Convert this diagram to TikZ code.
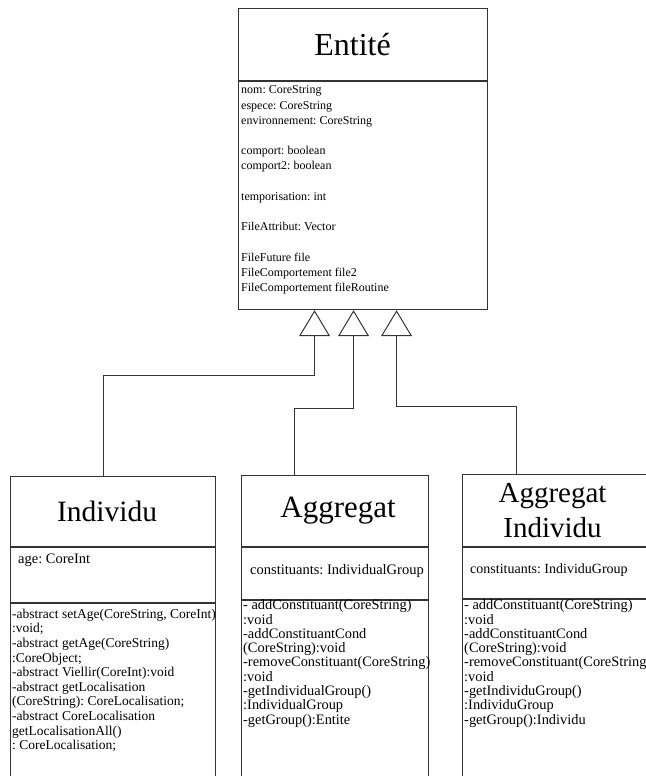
\documentclass[tikz,border=0pt]{standalone}
\usepackage{fontspec}
\setmainfont{Liberation Serif}
\usetikzlibrary{arrows.meta}
\frenchspacing

\tikzset{
  classbox/.style={draw=black!80, line width=1.1pt, inner sep=0pt, anchor=north west},
  classname/.style={font=\fontsize{31}{35}\selectfont, align=center},
  members/.style={anchor=north west, inner sep=0pt, align=left, font=\fontsize{14.4}{14.3}\selectfont},
  fields/.style={anchor=north west, inner sep=0pt, align=left, font=\fontsize{14.5}{15}\selectfont},
  attrs/.style={anchor=north west, inner sep=0pt, align=left, font=\fontsize{12}{15.2}\selectfont},
  inherit/.style={draw=black!80, line width=1pt, -{Triangle[open, width=31pt, length=26pt, line width=1pt]}}
}

\begin{document}
\begin{tikzpicture}[x=1pt, y=-1pt]
        \useasboundingbox (0,0) rectangle (645,776);

        % Entite box
        \node[classbox, minimum width=249pt, minimum height=72pt] (enttitle) at (238,8) {};
        \node[classname, font=\fontsize{32}{36}\selectfont] at ([xshift=-10.5pt]enttitle.center) {Entité};
        \node[classbox, minimum width=249pt, minimum height=228pt] (entattr) at (enttitle.south west) {};
        \node[attrs] (entlist) at (241,85.8) {
            nom: CoreString\\
            espece: CoreString\\
            environnement: CoreString\\[15.2pt]
            comport: boolean\\
            comport2: boolean\\[15.2pt]
            temporisation: int\\[15.2pt]
            FileAttribut: Vector\\[15.2pt]
            FileFuture file\\
            FileComportement file2\\
            FileComportement fileRoutine
        };

        % Individu box
        \node[classbox, minimum width=205pt, minimum height=70pt] (indtitle) at (10,476) {};
        \node[classname, font=\fontsize{29.5}{35}\selectfont] at ([xshift=-6pt]indtitle.center) {Individu};
        \node[classbox, minimum width=205pt, minimum height=55pt] (indattr) at (indtitle.south west) {};
        \node[classbox, minimum width=205pt, minimum height=190pt] (indops) at (indattr.south west) {};
        \node[fields] (indage) at (18,554) {age: CoreInt};
        \node[members, font=\fontsize{13.5}{14.6}\selectfont] (indlist) at (12,608.7) {
            -abstract setAge(CoreString, CoreInt)\\
            :void;\\
            -abstract getAge(CoreString)\\
            :CoreObject;\\
            -abstract Viellir(CoreInt):void\\
            -abstract getLocalisation\\
            (CoreString): CoreLocalisation;\\
            -abstract CoreLocalisation\\
            getLocalisationAll()\\
            : CoreLocalisation;
        };

        % Aggregat box
        \node[classbox, minimum width=187pt, minimum height=71pt] (aggtitle) at (241,475) {};
        \node[classname] at ([xshift=3pt]aggtitle.center) {Aggregat};
        \node[classbox, minimum width=187pt, minimum height=52pt] (aggattr) at (aggtitle.south west) {};
        \node[classbox, minimum width=187pt, minimum height=177pt] (aggops) at (aggattr.south west) {};
        \node[fields] (aggconst) at (250,564) {constituants: IndividualGroup};
        \node[members] (agglist) at (243,599.5) {
            - addConstituant(CoreString)\\
            :void\\
            -addConstituantCond\\
            (CoreString):void\\
            -removeConstituant(CoreString)\\
            :void\\
            -getIndividualGroup()\\
            :IndividualGroup\\
            -getGroup():Entite
        };

        % Aggregat Individu box
        \node[classbox, minimum width=200pt, minimum height=72pt] (aititle) at (462,474) {};
        \node[classname, font=\fontsize{29}{35}\selectfont] at ([xshift=-10pt]aititle.center) {Aggregat\\Individu};
        \node[classbox, minimum width=200pt, minimum height=51pt] (aiattr) at (aititle.south west) {};
        \node[classbox, minimum width=200pt, minimum height=178pt] (aiops) at (aiattr.south west) {};
        \node[fields, font=\fontsize{14}{15}\selectfont] (aiconst) at (470,564) {constituants: IndividuGroup};
        \node[members] (ailist) at (464,599.5) {
            - addConstituant(CoreString)\\
            :void\\
            -addConstituantCond\\
            (CoreString):void\\
            -removeConstituant(CoreString\\
            :void\\
            -getIndividuGroup()\\
            :IndividuGroup\\
            -getGroup():Individu
        };

        % generalisation links
        \draw[inherit] ([xshift=-9.5pt]indtitle.north) |- ([xshift=-48.5pt, yshift=-65pt]entattr.south) -- ([xshift=-48.5pt]entattr.south);
        \draw[inherit] ([xshift=-40.5pt]aggtitle.north) |- ([xshift=-9.5pt, yshift=-98pt]entattr.south) -- ([xshift=-9.5pt]entattr.south);
        \draw[inherit] ([xshift=-46pt]aititle.north) |- ([xshift=33.5pt, yshift=-96pt]entattr.south) -- ([xshift=33.5pt]entattr.south);
    \end{tikzpicture}
\end{document}
